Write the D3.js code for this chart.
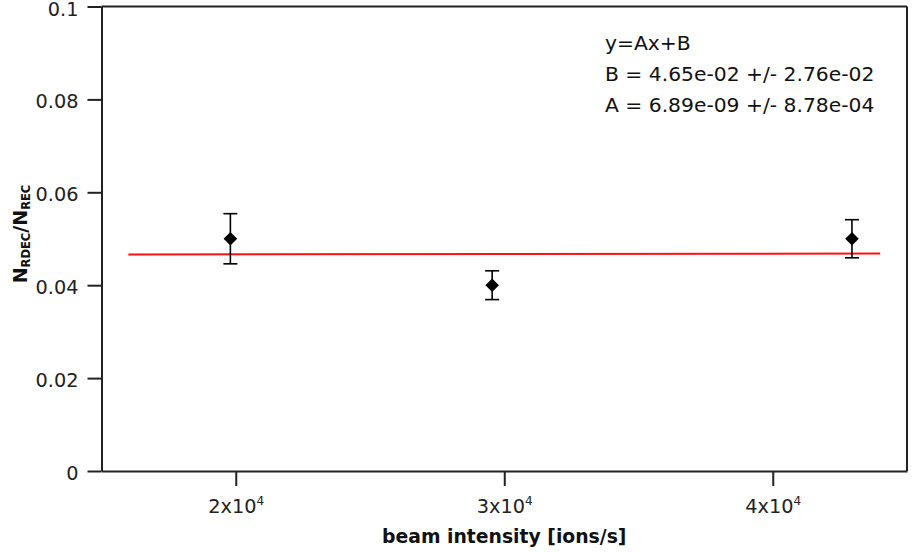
<!DOCTYPE html>
<html>
<head>
<meta charset="utf-8">
<script src="https://cdn.jsdelivr.net/npm/d3@7"></script>
<style>
  html, body { margin: 0; padding: 0; background: #fff; }
  svg { display: block; font-family: "DejaVu Sans", Verdana, sans-serif; }
</style>
</head>
<body>
<svg id="chart" width="913" height="553"></svg>
<script>
// Measured ratio N_RDEC/N_REC against beam intensity
const intensity = [19800, 29550, 42950];
const ratio     = [0.050, 0.040, 0.050];
const ratioErr  = [0.0054, 0.0031, 0.0041];

// Linear fit y = A x + B and the x range it is drawn over
const fitA = 6.89e-09;
const fitB = 4.65e-02;
const fitRange = [16000, 44000];
const fitText = [
  "y=Ax+B",
  "B = 4.65e-02 +/- 2.76e-02",
  "A = 6.89e-09 +/- 8.78e-04"
];

// Axis ticks
const yTicks = [0, 0.02, 0.04, 0.06, 0.08, 0.1];
const yTickLabels = ["0", "0.02", "0.04", "0.06", "0.08", "0.1"];
const xTicks = [20000, 30000, 40000];
const xTickMantissa = ["2", "3", "4"];
const xTickExponent = ["4", "4", "4"];

const ink = "#222";
const fontFamily = "DejaVu Sans, Verdana, sans-serif";
const svg = d3.select("#chart");

const x = d3.scaleLinear().domain([15000, 45000]).range([101.5, 907]);
const y = d3.scaleLinear().domain([0, 0.1]).range([471, 6.5]);

// Frame: top and right edges
svg.append("line").attr("x1", x.range()[0]).attr("x2", x.range()[1])
  .attr("y1", y(0.1)).attr("y2", y(0.1))
  .attr("stroke", ink).attr("stroke-width", 2);
svg.append("line").attr("x1", x.range()[1]).attr("x2", x.range()[1])
  .attr("y1", y(0)).attr("y2", y(0.1))
  .attr("stroke", ink).attr("stroke-width", 2);

// Left axis
const yAxis = svg.append("g")
  .attr("transform", `translate(${x.range()[0]},0)`)
  .call(d3.axisLeft(y).tickValues(yTicks)
    .tickFormat((d, i) => yTickLabels[i])
    .tickSize(14).tickSizeOuter(0).tickPadding(9))
  .attr("font-family", fontFamily).attr("font-size", 19.3);
yAxis.select(".domain").attr("stroke", ink).attr("stroke-width", 2);
yAxis.selectAll(".tick line").attr("stroke", ink).attr("stroke-width", 2);
yAxis.selectAll(".tick text").attr("fill", ink).attr("dy", "0.44em");

// Bottom axis
const xAxis = svg.append("g")
  .attr("transform", `translate(0,${y(0)})`)
  .call(d3.axisBottom(x).tickValues(xTicks).tickFormat(() => "")
    .tickSize(15).tickSizeOuter(0))
  .attr("font-family", fontFamily).attr("font-size", 19.3);
xAxis.select(".domain").attr("stroke", ink).attr("stroke-width", 2);
xAxis.selectAll(".tick line").attr("stroke", ink).attr("stroke-width", 2);
xAxis.selectAll(".tick").each(function (d, i) {
  const t = d3.select(this).append("text")
    .attr("y", 42).attr("fill", ink).attr("text-anchor", "middle");
  t.append("tspan").text(xTickMantissa[i] + "x10");
  t.append("tspan").attr("font-size", 12).attr("dy", -8).text(xTickExponent[i]);
});

// Axis titles
svg.append("text")
  .attr("x", (x.range()[0] + x.range()[1]) / 2).attr("y", 543)
  .attr("text-anchor", "middle").attr("font-weight", "bold")
  .attr("font-size", 18.8).attr("fill", "#111")
  .text("beam intensity [ions/s]");

const yTitle = svg.append("text")
  .attr("transform", "translate(27,234) rotate(-90)")
  .attr("text-anchor", "middle").attr("font-weight", "bold").attr("fill", "#111");
yTitle.append("tspan").attr("font-size", 19).text("N");
yTitle.append("tspan").attr("font-size", 11.5).attr("dy", 2.5).text("RDEC");
yTitle.append("tspan").attr("font-size", 19).attr("dy", -2.5).text("/N");
yTitle.append("tspan").attr("font-size", 11.5).attr("dy", 2.5).text("REC");

// Fit line
svg.append("line")
  .attr("x1", x(fitRange[0])).attr("y1", y(fitA * fitRange[0] + fitB))
  .attr("x2", x(fitRange[1])).attr("y2", y(fitA * fitRange[1] + fitB))
  .attr("stroke", "#ff1010").attr("stroke-width", 2);

// Error bars with caps
const pts = intensity.map((v, i) => ({ x: v, y: ratio[i], e: ratioErr[i] }));
const bars = svg.append("g").attr("stroke", "#000").attr("stroke-width", 1.6);
bars.selectAll(".stem").data(pts).join("line")
  .attr("x1", d => x(d.x)).attr("x2", d => x(d.x))
  .attr("y1", d => y(d.y + d.e)).attr("y2", d => y(d.y - d.e));
bars.selectAll(".capTop").data(pts).join("line")
  .attr("x1", d => x(d.x) - 7).attr("x2", d => x(d.x) + 7)
  .attr("y1", d => y(d.y + d.e)).attr("y2", d => y(d.y + d.e));
bars.selectAll(".capBot").data(pts).join("line")
  .attr("x1", d => x(d.x) - 7).attr("x2", d => x(d.x) + 7)
  .attr("y1", d => y(d.y - d.e)).attr("y2", d => y(d.y - d.e));

// Diamond markers
svg.append("g").selectAll("path").data(pts).join("path")
  .attr("transform", d => `translate(${x(d.x)},${y(d.y)})`)
  .attr("d", "M0,-6.8L6.8,0L0,6.8L-6.8,0Z")
  .attr("fill", "#000");

// Fit result text
svg.append("g").selectAll("text").data(fitText).join("text")
  .attr("x", 605).attr("y", (d, i) => 49.5 + i * 31)
  .attr("font-size", 20.3).attr("fill", "#111")
  .text(d => d);
</script>
</body>
</html>
